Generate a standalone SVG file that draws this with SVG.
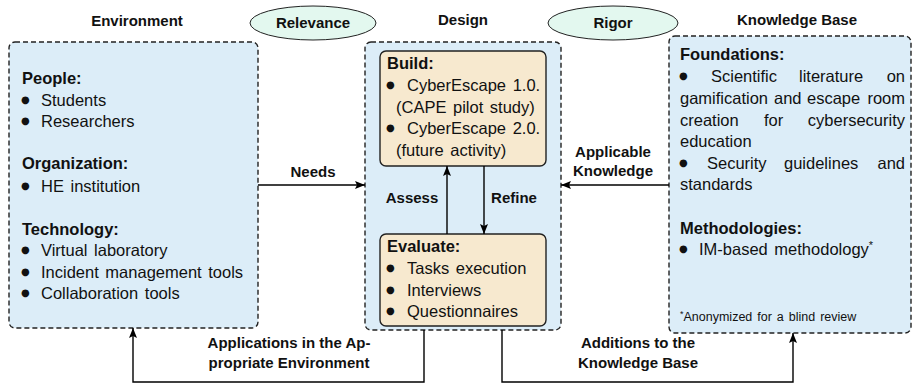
<svg xmlns="http://www.w3.org/2000/svg" width="915" height="384" viewBox="0 0 915 384">
<defs>
<marker id="ah" viewBox="0 0 10 8" refX="10" refY="4" markerWidth="10" markerHeight="8" markerUnits="userSpaceOnUse" orient="auto">
<path d="M0,0 L10,4 L0,8 L2,4 Z" fill="#000"/>
</marker>
<style>
.box{fill:#dcedf8;stroke:#222;stroke-width:1.4;stroke-dasharray:5,3}
.inner{fill:#f7e9cf;stroke:#222;stroke-width:1.4}
.ell{fill:#e3f8ef;stroke:#222;stroke-width:1}
.t{font-family:"Liberation Sans",Arial,sans-serif;font-size:16.5px;fill:#111;word-spacing:2px}
.b{font-family:"Liberation Sans",Arial,sans-serif;font-size:16.5px;font-weight:bold;fill:#111}
.lbl{font-family:"Liberation Sans",Arial,sans-serif;font-size:15px;font-weight:bold;fill:#111;text-anchor:middle}
.sm{font-family:"Liberation Sans",Arial,sans-serif;font-size:12.5px;fill:#111;word-spacing:1.5px}
.bul{font-family:"DejaVu Sans",sans-serif;font-size:10px;fill:#111}
.c{fill:none;stroke:#000;stroke-width:1.4}
</style>
</defs>

<text class="lbl" x="137" y="26">Environment</text>
<text class="lbl" x="463" y="25">Design</text>
<text class="lbl" x="797" y="25">Knowledge Base</text>

<g id="relevance">
<ellipse class="ell" cx="313" cy="23" rx="63" ry="17"/>
<text class="lbl" x="313" y="28">Relevance</text>
</g>
<g id="rigor">
<ellipse class="ell" cx="613" cy="23" rx="65" ry="17"/>
<text class="lbl" x="613" y="28">Rigor</text>
</g>

<g id="environment">
<rect class="box" x="9" y="42" width="249" height="286" rx="6"/>
<text class="b" x="22" y="84">People:</text>
<text class="bul" x="21" y="103">●</text><text class="t" x="41" y="106">Students</text>
<text class="bul" x="21" y="124">●</text><text class="t" x="41" y="127">Researchers</text>
<text class="b" x="22" y="169">Organization:</text>
<text class="bul" x="21" y="189">●</text><text class="t" x="41" y="192">HE institution</text>
<text class="b" x="22" y="235">Technology:</text>
<text class="bul" x="21" y="253">●</text><text class="t" x="41" y="256">Virtual laboratory</text>
<text class="bul" x="21" y="275">●</text><text class="t" x="41" y="278">Incident management tools</text>
<text class="bul" x="21" y="296">●</text><text class="t" x="41" y="299">Collaboration tools</text>
</g>

<g id="design">
<rect class="box" x="365" y="42" width="196" height="288" rx="6"/>
</g>

<g id="build">
<rect class="inner" x="380" y="51" width="166" height="115" rx="6"/>
<text class="b" x="387" y="69">Build:</text>
<text class="bul" x="386" y="88">●</text><text class="t" x="407" y="91">CyberEscape 1.0.</text>
<text class="t" x="396" y="113">(CAPE pilot study)</text>
<text class="bul" x="386" y="131">●</text><text class="t" x="407" y="134">CyberEscape 2.0.</text>
<text class="t" x="396" y="156">(future activity)</text>
</g>

<g id="evaluate">
<rect class="inner" x="380" y="234" width="166" height="92" rx="6"/>
<text class="b" x="387" y="252">Evaluate:</text>
<text class="bul" x="386" y="271">●</text><text class="t" x="407" y="274">Tasks execution</text>
<text class="bul" x="386" y="293">●</text><text class="t" x="407" y="296">Interviews</text>
<text class="bul" x="386" y="314">●</text><text class="t" x="407" y="317">Questionnaires</text>
</g>

<g id="knowledge-base">
<rect class="box" x="669" y="36" width="242" height="297" rx="6"/>
<text class="b" x="680" y="60">Foundations:</text>
<text class="bul" x="679" y="79">●</text><text class="t" x="711" y="82">Scientific</text><text class="t" x="799" y="82">literature</text><text class="t" x="905" y="82" text-anchor="end">on</text>
<text class="t" x="680" y="104">gamification</text><text class="t" x="774" y="104">and</text><text class="t" x="807" y="104">escape</text><text class="t" x="905" y="104" text-anchor="end">room</text>
<text class="t" x="680" y="126">creation</text><text class="t" x="764" y="126">for</text><text class="t" x="905" y="126" text-anchor="end">cybersecurity</text>
<text class="t" x="680" y="147">education</text>
<text class="bul" x="679" y="166">●</text><text class="t" x="707" y="169">Security</text><text class="t" x="784" y="169">guidelines</text><text class="t" x="905" y="169" text-anchor="end">and</text>
<text class="t" x="680" y="190">standards</text>
<text class="b" x="680" y="234">Methodologies:</text>
<text class="bul" x="679" y="252">●</text><text class="t" x="699" y="255">IM-based methodology<tspan font-size="11" dy="-6">*</tspan></text>
<text class="sm" x="680" y="321"><tspan font-size="9" dy="-4">*</tspan><tspan dy="4">Anonymized for a blind review</tspan></text>
</g>

<g id="connectors">
<line class="c" x1="258" y1="185" x2="365" y2="185" marker-end="url(#ah)"/>
<line class="c" x1="669" y1="185" x2="561" y2="185" marker-end="url(#ah)"/>
<line class="c" x1="447" y1="234" x2="447" y2="166" marker-end="url(#ah)"/>
<line class="c" x1="484" y1="166" x2="484" y2="234" marker-end="url(#ah)"/>
<path class="c" d="M424,330 V382 H133 V328" marker-end="url(#ah)"/>
<path class="c" d="M502,330 V382 H793 V333" marker-end="url(#ah)"/>
<text class="lbl" x="313" y="177">Needs</text>
<text class="lbl" x="613" y="157">Applicable</text>
<text class="lbl" x="613" y="176">Knowledge</text>
<text class="lbl" x="412" y="203">Assess</text>
<text class="lbl" x="514" y="203">Refine</text>
<text class="lbl" x="289" y="348">Applications in the Ap-</text>
<text class="lbl" x="289" y="368">propriate Environment</text>
<text class="lbl" x="638" y="348">Additions to the</text>
<text class="lbl" x="638" y="368">Knowledge Base</text>
</g>
</svg>
